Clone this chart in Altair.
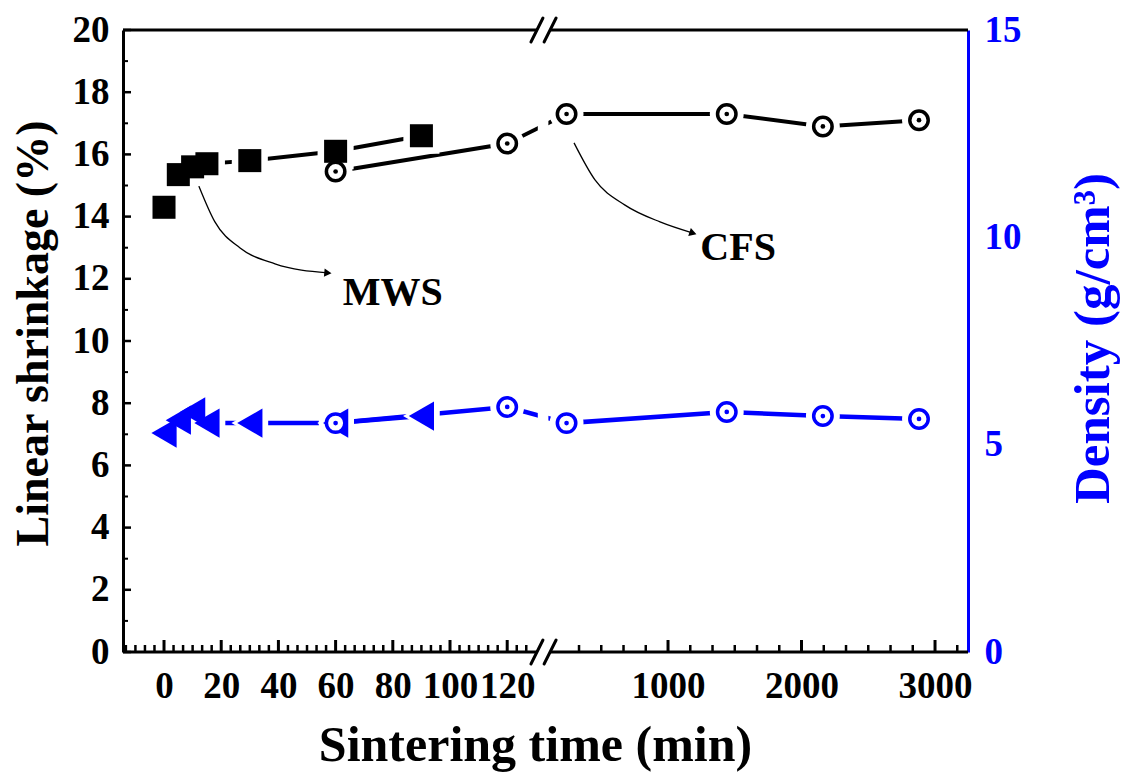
import altair as alt
import pandas as pd

# ---------------- data ----------------
mws_time = [0, 5, 10, 15, 30, 60, 90]
mws_shrinkage = [14.3, 15.35, 15.6, 15.7, 15.8, 16.1, 16.6]
mws_density = [5.28, 5.59, 5.79, 5.52, 5.52, 5.52, 5.69]

cfs_time = [60, 120, 240, 1440, 2160, 2880]
cfs_shrinkage = [15.45, 16.35, 17.3, 17.3, 16.9, 17.1]
cfs_density = [5.52, 5.91, 5.52, 5.79, 5.69, 5.62]

left_ticks = [0, 20, 40, 60, 80, 100, 120]
right_ticks = [1000, 2000, 3000]
shrink_ticks = list(range(0, 21, 2))
shrink_minor = list(range(1, 20, 2))
density_ticks = [0, 5, 10, 15]

label_text = ["MWS", "CFS"]
label_time = [80, 1525]
label_value = [11.55, 13.0]

mws_arrow_time = [12.2, 17.8, 26.6, 38.8, 57.3]
mws_arrow_value = [14.98, 13.83, 12.99, 12.48, 12.19]
cfs_arrow_time = [296, 453, 678, 940, 1187]
cfs_arrow_value = [16.37, 15.18, 14.37, 13.83, 13.47]
arrow_head_angle = [5, 18]

# ---------------- broken x axis ----------------
LEFT_END = 130.5            # minutes shown on the left segment
R_OFF, R_SLOPE = 129.55, 0.04668   # right segment compression
U_MIN, U_MAX = -14.34, 281.12
BREAK_A, BREAK_B = 130.4, 135.0    # break marks
EXPR = f"datum.t <= {LEFT_END} ? datum.t : {R_OFF} + {R_SLOPE} * datum.t"


def to_u(t):
    return t if t <= LEFT_END else R_OFF + R_SLOPE * t


W, H = 845, 622
FONT = "Liberation Serif"
BLUE = "#0000ff"

xs = alt.Scale(domain=[U_MIN, U_MAX], nice=False, zero=False)
ys_l = alt.Scale(domain=[0, 20], nice=False, zero=False)
ys_r = alt.Scale(domain=[0, 15], nice=False, zero=False)


def X(field="u"):
    return alt.X(f"{field}:Q", scale=xs)


def YL(field="s"):
    return alt.Y(f"{field}:Q", scale=ys_l)


def YR(field="d"):
    return alt.Y(f"{field}:Q", scale=ys_r)


mws_df = pd.DataFrame({"t": mws_time, "s": mws_shrinkage, "d": mws_density, "series": "MWS"})
cfs_df = pd.DataFrame({"t": cfs_time, "s": cfs_shrinkage, "d": cfs_density, "series": "CFS"})
all_df = pd.concat([mws_df, cfs_df], ignore_index=True)

major_t = left_ticks + right_ticks
minor_t = [k * 20 / 6 for k in range(-4, 39) if k % 6 != 0] + \
          [k * 1000 / 6 for k in range(2, 20) if k % 6 != 0]
major_df = pd.DataFrame({"t": major_t})
minor_df = pd.DataFrame({"t": minor_t})

x_axis = alt.Axis(
    orient="bottom", values=[to_u(t) for t in major_t],
    labelExpr=f"datum.value <= {LEFT_END} ? format(datum.value, 'd') : format(round((datum.value - {R_OFF}) / {R_SLOPE}), 'd')",
    domain=False, ticks=False, grid=False, labelFlush=False, labelOverlap=False, labelBound=False,
    labelFont=FONT, labelFontWeight="bold", labelFontSize=37, labelColor="black", labelPadding=16,
    title="Sintering time (min)", titleFont=FONT, titleFontWeight="bold", titleFontSize=50,
    titleColor="black", titleX=412, titleY=108, titleAlign="center", titleBaseline="alphabetic",
)

left_axis = alt.Axis(
    orient="left", values=shrink_ticks, domain=True, domainColor="black", domainWidth=3,
    ticks=False, grid=False, labelFlush=False, labelOverlap=False,
    labelFont=FONT, labelFontWeight="bold", labelFontSize=37, labelColor="black", labelPadding=14,
    title="Linear shrinkage (%)", titleFont=FONT, titleFontWeight="bold", titleFontSize=46,
    titleColor="black", titleX=-76, titleY=303, titleAngle=270, titleAlign="center",
    titleBaseline="alphabetic",
)

right_axis = alt.Axis(
    orient="right", values=density_ticks, domain=True, domainColor=BLUE, domainWidth=3,
    ticks=False, grid=False, labelFlush=False, labelOverlap=False,
    labelFont=FONT, labelFontWeight="bold", labelFontSize=37, labelColor=BLUE, labelPadding=16,
    title="Density (g/cm³)", titleFont=FONT, titleFontWeight="bold", titleFontSize=51,
    titleColor=BLUE, titleX=140, titleY=308, titleAngle=270, titleAlign="center",
    titleBaseline="alphabetic",
)

# ---------------- left (shrinkage) group ----------------
lines_l = alt.Chart(all_df).transform_calculate(u=EXPR).mark_line(
    color="black", strokeWidth=4).encode(
    x=alt.X("u:Q", scale=xs, axis=x_axis),
    y=alt.Y("s:Q", scale=ys_l, axis=left_axis), detail="series:N")

halo_sq = alt.Chart(mws_df).transform_calculate(u=EXPR).mark_point(
    shape="square", filled=True, color="white", opacity=1, size=1300).encode(x=X(), y=YL())
halo_ci = alt.Chart(cfs_df).transform_calculate(u=EXPR).mark_point(
    shape="circle", filled=True, color="white", opacity=1, size=1150).encode(x=X(), y=YL())
squares = alt.Chart(mws_df).transform_calculate(u=EXPR).mark_point(
    shape="square", filled=True, color="black", opacity=1, size=530).encode(x=X(), y=YL())
circles_l = alt.Chart(cfs_df).transform_calculate(u=EXPR).mark_point(
    shape="circle", filled=True, fill="white", stroke="black", strokeWidth=3.5,
    opacity=1, size=340).encode(x=X(), y=YL())
dots_l = alt.Chart(cfs_df).transform_calculate(u=EXPR).mark_point(
    shape="circle", filled=True, color="black", opacity=1, size=22).encode(x=X(), y=YL())

arrow_df = pd.DataFrame({
    "t": mws_arrow_time + cfs_arrow_time,
    "s": mws_arrow_value + cfs_arrow_value,
    "id": ["a"] * len(mws_arrow_time) + ["b"] * len(cfs_arrow_time),
})
arrows = alt.Chart(arrow_df).transform_calculate(u=EXPR).mark_line(
    color="black", strokeWidth=1.3, interpolate="monotone").encode(x=X(), y=YL(), detail="id:N")
head_df = pd.DataFrame({"t": [mws_arrow_time[-1], cfs_arrow_time[-1]],
                        "s": [mws_arrow_value[-1], cfs_arrow_value[-1]],
                        "ang": arrow_head_angle})
heads = alt.Chart(head_df).transform_calculate(u=EXPR).mark_point(
    shape="triangle-right", filled=True, color="black", opacity=1, size=70).encode(
    x=X(), y=YL(), angle=alt.Angle("ang:Q", scale=None))
text_df = pd.DataFrame({"t": label_time, "s": label_value, "txt": label_text})
texts = alt.Chart(text_df).transform_calculate(u=EXPR).mark_text(
    font=FONT, fontWeight="bold", fontSize=40, color="black", align="center",
    baseline="middle").encode(x=X(), y=YL(), text="txt:N")

# inward ticks
xt_major = alt.Chart(major_df).transform_calculate(u=EXPR).mark_rule(
    color="black", strokeWidth=3).encode(x=X(), y=alt.value(H), y2=alt.value(H - 12))
xt_minor = alt.Chart(minor_df).transform_calculate(u=EXPR).mark_rule(
    color="black", strokeWidth=2.5).encode(x=X(), y=alt.value(H), y2=alt.value(H - 7))
yt_major = alt.Chart(pd.DataFrame({"s": shrink_ticks})).mark_rule(
    color="black", strokeWidth=2.5).encode(y=YL(), x=alt.value(0), x2=alt.value(8))
yt_minor = alt.Chart(pd.DataFrame({"s": shrink_minor})).mark_rule(
    color="black", strokeWidth=2).encode(y=YL(), x=alt.value(0), x2=alt.value(5))

left_group = alt.layer(lines_l, halo_sq, halo_ci, arrows, heads, squares, circles_l, dots_l,
                       texts, xt_major, xt_minor, yt_major, yt_minor)

# ---------------- right (density) group ----------------
lines_r = alt.Chart(all_df).transform_calculate(u=EXPR).mark_line(
    color=BLUE, strokeWidth=4.5).encode(
    x=X(), y=alt.Y("d:Q", scale=ys_r, axis=right_axis), detail="series:N")
halo_tr = alt.Chart(mws_df).transform_calculate(u=EXPR).mark_point(
    shape="triangle-left", filled=True, color="white", opacity=1, size=1800).encode(x=X(), y=YR())
halo_ci_r = alt.Chart(cfs_df).transform_calculate(u=EXPR).mark_point(
    shape="circle", filled=True, color="white", opacity=1, size=1150).encode(x=X(), y=YR())
tris = alt.Chart(mws_df).transform_calculate(u=EXPR).mark_point(
    shape="triangle-left", filled=True, color=BLUE, opacity=1, size=850).encode(x=X(), y=YR())
circles_r = alt.Chart(cfs_df).transform_calculate(u=EXPR).mark_point(
    shape="circle", filled=True, fill="white", stroke=BLUE, strokeWidth=3.5,
    opacity=1, size=340).encode(x=X(), y=YR())
dots_r = alt.Chart(cfs_df).transform_calculate(u=EXPR).mark_point(
    shape="circle", filled=True, color=BLUE, opacity=1, size=22).encode(x=X(), y=YR())

# break gap, frame segments and // marks
gap = alt.Chart(pd.DataFrame({"u1": [BREAK_A + 0.3], "u2": [BREAK_B - 0.6]})).mark_rect(
    color="white").encode(x=X("u1"), x2="u2:Q", y=alt.value(15), y2=alt.value(H - 15))
seg_df = pd.DataFrame({"u1": [U_MIN, BREAK_B], "u2": [BREAK_A, U_MAX]})
top_line = alt.Chart(seg_df).mark_rule(color="black", strokeWidth=3).encode(
    x=X("u1"), x2="u2:Q", y=alt.value(0))
bot_line = alt.Chart(seg_df).mark_rule(color="black", strokeWidth=3).encode(
    x=X("u1"), x2="u2:Q", y=alt.value(H))
sl_df = pd.DataFrame({"u1": [BREAK_A - 2.1, BREAK_B - 2.1], "u2": [BREAK_A + 2.1, BREAK_B + 2.1]})
sl_top = alt.Chart(sl_df).mark_rule(color="black", strokeWidth=3, strokeCap="round").encode(
    x=X("u1"), x2="u2:Q", y=alt.value(12), y2=alt.value(-12))
sl_bot = alt.Chart(sl_df).mark_rule(color="black", strokeWidth=3, strokeCap="round").encode(
    x=X("u1"), x2="u2:Q", y=alt.value(H + 12), y2=alt.value(H - 12))

right_group = alt.layer(lines_r, gap, halo_tr, halo_ci_r, tris, circles_r, dots_r,
                        top_line, bot_line, sl_top, sl_bot)

chart = alt.layer(left_group, right_group).resolve_scale(y="independent").properties(
    width=W, height=H,
    padding={"left": 123, "top": 30, "right": 158, "bottom": 121},
    autosize=alt.AutoSizeParams(type="none"),
    background="white",
).configure_view(stroke=None)

chart.save("out.html", embed_options={"renderer": "svg", "actions": False})
